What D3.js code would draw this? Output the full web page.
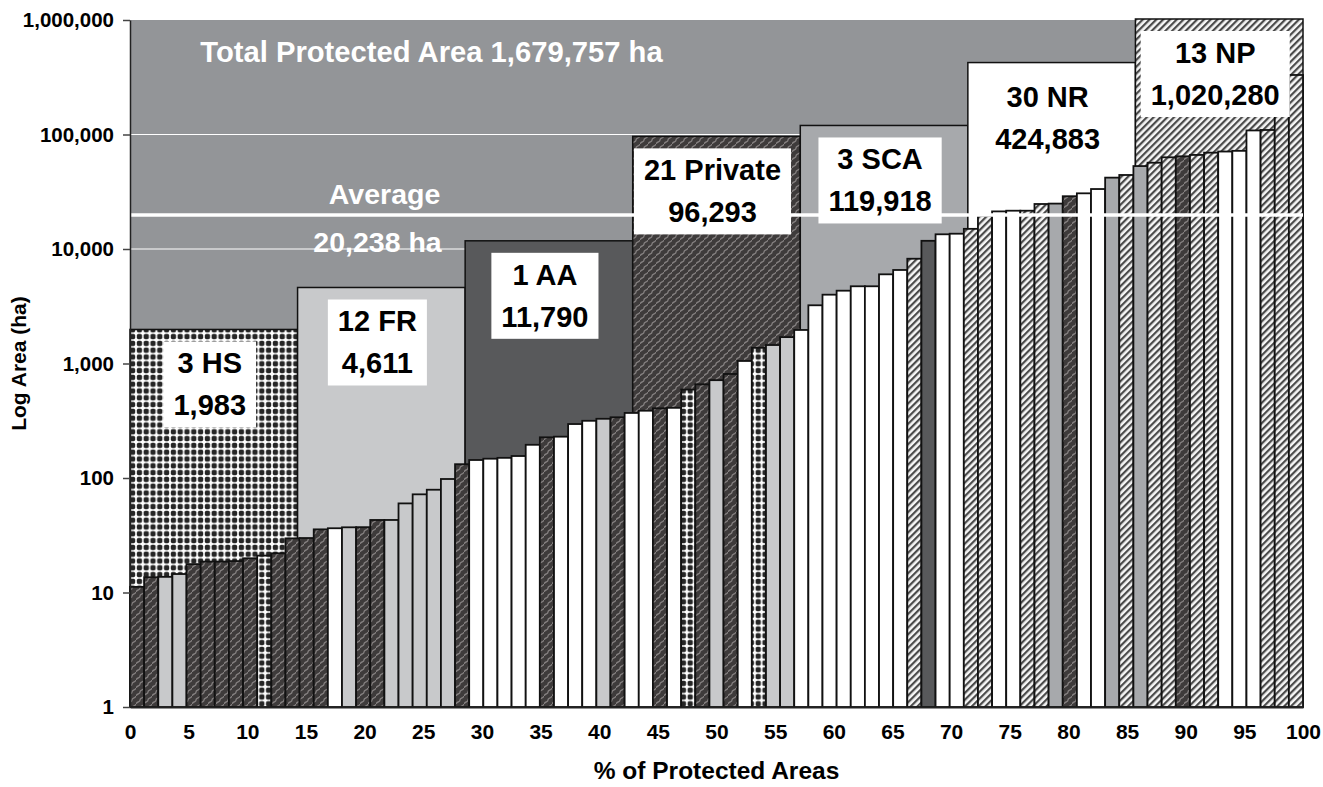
<!DOCTYPE html>
<html>
<head>
<meta charset="utf-8">
<script src="https://cdn.jsdelivr.net/npm/d3@7"></script>
<style>
  body { margin: 0; background: #fff; }
  text { font-family: "Liberation Sans", Arial, Helvetica, sans-serif; font-weight: bold; }
</style>
</head>
<body>
<svg id="chart" width="1323" height="787"></svg>
<script>
// Protected-area categories, in the order their blocks are laid out
const categories = ["HS", "FR", "AA", "Private", "SCA", "NR", "NP"];
const categoryCounts = [3, 12, 1, 21, 3, 30, 13];
const categoryTotals = [1983, 4611, 11790, 96293, 119918, 424883, 1020280];
const totalArea = 1679757;
const averageArea = 20238;

// Individual protected areas (ha), sorted from smallest to largest
const areaValues = [
  11.2, 13.6, 13.7, 14.5, 17.7, 18.6, 18.6, 18.8, 19.9, 21,
  22, 29.7, 29.9, 35.6, 36.4, 37.1, 37.2, 43, 43, 60,
  72, 79, 98, 132, 143.6, 147.4, 150, 155.6, 195, 226.6,
  229.6, 296, 316, 329, 339, 370, 387, 406, 410, 592,
  658, 715, 810, 1052, 1370, 1450, 1700, 1963, 3224, 3990,
  4324, 4725, 4725, 6010, 6558, 8222, 11790, 13440, 13600, 15000,
  19500, 21300, 21600, 21600, 24720, 24918, 28900, 30640, 33400, 42000,
  44300, 53000, 56700, 63200, 64500, 66300, 69400, 71000, 72000, 108500,
  109500, 190838, 331000
];
// Category of each area above
const areaTypes = [
  "Private", "Private", "FR", "FR", "Private", "Private", "Private", "Private", "Private", "HS",
  "Private", "Private", "Private", "Private", "NR", "FR", "Private", "Private", "FR", "FR",
  "FR", "FR", "FR", "Private", "NR", "NR", "NR", "NR", "NR", "Private",
  "NR", "NR", "NR", "FR", "Private", "NR", "NR", "Private", "NR", "HS",
  "Private", "FR", "Private", "NR", "HS", "FR", "FR", "NR", "NR", "NR",
  "NR", "NR", "NR", "NR", "NR", "NP", "AA", "NR", "NR", "NP",
  "NP", "NR", "NR", "NP", "NP", "SCA", "Private", "NR", "NR", "SCA",
  "NP", "SCA", "NP", "NP", "Private", "NP", "NP", "NR", "NR", "NR",
  "NP", "NP", "NP"
];

const yTicks = [1, 10, 100, 1000, 10000, 100000, 1000000];
const xTicks = [0, 5, 10, 15, 20, 25, 30, 35, 40, 45, 50, 55, 60, 65, 70, 75, 80, 85, 90, 95, 100];

const svg = d3.select("#chart");
const plotLeft = 130, plotRight = 1303, plotTop = 20, plotBottom = 707;

const x = d3.scaleLinear().domain([0, 100]).range([plotLeft, plotRight]);
const y = d3.scaleLog().domain([1, 1e6]).range([plotBottom, plotTop]);
const band = d3.scaleBand().domain(d3.range(areaValues.length)).range([x(0), x(100)]).padding(0);
const blockX = d3.scaleBand().domain(categories).range([x(0), x(100)]).padding(0);
const fmt = d3.format(",");

// ---- fill patterns ----
const defs = svg.append("defs");

// HS: bold dark dots on white, checker-like
const hsStep = 6.8;
const pHS = defs.append("pattern").attr("id", "pat-HS")
  .attr("patternUnits", "userSpaceOnUse").attr("width", hsStep).attr("height", hsStep);
pHS.append("rect").attr("width", hsStep).attr("height", hsStep).attr("fill", "#ffffff");
pHS.append("rect").attr("x", 0.8).attr("y", 0.8).attr("width", 5.2).attr("height", 5.2)
  .attr("rx", 1.7).attr("fill", "#262626");

// Private: dark weave with light wavy diagonals
const pPr = defs.append("pattern").attr("id", "pat-Private")
  .attr("patternUnits", "userSpaceOnUse").attr("width", 8).attr("height", 8);
pPr.append("rect").attr("width", 8).attr("height", 8).attr("fill", "#3e3b3b");
pPr.append("path").attr("d", "M0,8 C1,5 4,6.5 4,4 C4,1.5 7,3 8,0")
  .attr("fill", "none").attr("stroke", "#868282").attr("stroke-width", 1.3);

// NP: diagonal hatching
const npStep = 4.8;
const pNP = defs.append("pattern").attr("id", "pat-NP")
  .attr("patternUnits", "userSpaceOnUse").attr("width", npStep).attr("height", npStep)
  .attr("patternTransform", "rotate(45)");
pNP.append("rect").attr("width", npStep).attr("height", npStep).attr("fill", "#f6f6f6");
pNP.append("rect").attr("width", 2.2).attr("height", npStep).attr("fill", "#4a4a4a");

const fills = {
  HS: "url(#pat-HS)",
  FR: "#c8c9cb",
  AA: "#58595b",
  Private: "url(#pat-Private)",
  SCA: "#a7a9ac",
  NR: "#ffffff",
  NP: "url(#pat-NP)"
};

// ---- background: total protected area ----
const bgTop = Math.max(y(totalArea), plotTop);
svg.append("rect")
  .attr("x", x(0)).attr("width", x(100) - x(0))
  .attr("y", bgTop)
  .attr("height", y(1) - bgTop)
  .attr("fill", "#939598");

// gridlines
svg.append("g").selectAll("line")
  .data(yTicks.slice(1, -1))
  .join("line")
  .attr("x1", x(0)).attr("x2", x(100))
  .attr("y1", d => y(d)).attr("y2", d => y(d))
  .attr("stroke", "#ffffff").attr("stroke-width", 1);

// ---- category blocks ----
svg.append("g").selectAll("rect")
  .data(categories)
  .join("rect")
  .attr("x", d => blockX(d))
  .attr("width", blockX.bandwidth())
  .attr("y", (d, i) => y(categoryTotals[i]))
  .attr("height", (d, i) => y(1) - y(categoryTotals[i]))
  .attr("fill", d => fills[d])
  .attr("stroke", "#111").attr("stroke-width", 1.5);

// ---- individual area bars ----
svg.append("g").selectAll("rect")
  .data(areaValues)
  .join("rect")
  .attr("x", (d, i) => band(i))
  .attr("width", band.bandwidth())
  .attr("y", d => y(d))
  .attr("height", d => y(1) - y(d))
  .attr("fill", (d, i) => fills[areaTypes[i]])
  .attr("stroke", "#111").attr("stroke-width", 1.8);

// ---- average line ----
svg.append("line")
  .attr("x1", x(0)).attr("x2", x(100))
  .attr("y1", y(averageArea) + 1).attr("y2", y(averageArea) + 1)
  .attr("stroke", "#ffffff").attr("stroke-width", 3.5);

svg.append("text")
  .attr("x", x(21.7)).attr("y", y(averageArea) - 10)
  .attr("text-anchor", "middle").attr("font-size", 28.5).attr("fill", "#ffffff")
  .text("Average");
svg.append("text")
  .attr("x", x(21.1)).attr("y", y(averageArea) + 38)
  .attr("text-anchor", "middle").attr("font-size", 28.5).attr("fill", "#ffffff")
  .text(fmt(averageArea) + " ha");

// total label
svg.append("text")
  .attr("x", x(25.7)).attr("y", 62)
  .attr("text-anchor", "middle").attr("font-size", 29.2).attr("fill", "#ffffff")
  .text("Total Protected Area " + fmt(totalArea) + " ha");

// ---- category labels in white boxes ----
const labelG = svg.append("g");
categories.forEach((c, i) => {
  const cx = blockX(c) + blockX.bandwidth() / 2 - 4;
  const ty = y(categoryTotals[i]) + 34;
  const g = labelG.append("g");
  const box = g.append("rect").attr("fill", "#ffffff");
  const t = g.append("text")
    .attr("text-anchor", "middle").attr("font-size", 29).attr("fill", "#000");
  t.append("tspan").attr("x", cx).attr("y", ty + 10).text(categoryCounts[i] + " " + c);
  t.append("tspan").attr("x", cx).attr("y", ty + 52).text(fmt(categoryTotals[i]));
  const bb = t.node().getBBox();
  box.attr("x", bb.x - 10).attr("y", bb.y - 6)
    .attr("width", bb.width + 20).attr("height", bb.height + 12);
});

// ---- axes ----
const yAxis = svg.append("g")
  .attr("transform", `translate(${plotLeft},0)`)
  .call(d3.axisLeft(y).tickValues(yTicks).tickFormat(fmt).tickSize(7).tickPadding(9).tickSizeOuter(0));
yAxis.select(".domain").attr("stroke", "#222").attr("stroke-width", 1.5);
yAxis.selectAll(".tick line").attr("stroke", "#444").attr("stroke-width", 1.5);
yAxis.selectAll(".tick text").attr("font-size", 20.5).attr("fill", "#000")
  .style("font-family", "'Liberation Sans', Arial, sans-serif").style("font-weight", "bold");

const xAxis = svg.append("g")
  .attr("transform", `translate(0,${plotBottom})`)
  .call(d3.axisBottom(x).tickValues(xTicks).tickSize(0).tickPadding(17).tickSizeOuter(0));
xAxis.select(".domain").attr("stroke", "#222").attr("stroke-width", 2);
xAxis.selectAll(".tick text").attr("font-size", 21).attr("fill", "#000")
  .style("font-family", "'Liberation Sans', Arial, sans-serif").style("font-weight", "bold");

// axis titles
svg.append("text")
  .attr("transform", `translate(26,${(plotTop + plotBottom) / 2}) rotate(-90)`)
  .attr("text-anchor", "middle").attr("font-size", 21).attr("fill", "#000")
  .text("Log Area (ha)");
svg.append("text")
  .attr("x", (plotLeft + plotRight) / 2).attr("y", 779)
  .attr("text-anchor", "middle").attr("font-size", 24.5).attr("fill", "#000")
  .text("% of Protected Areas");
</script>
</body>
</html>
